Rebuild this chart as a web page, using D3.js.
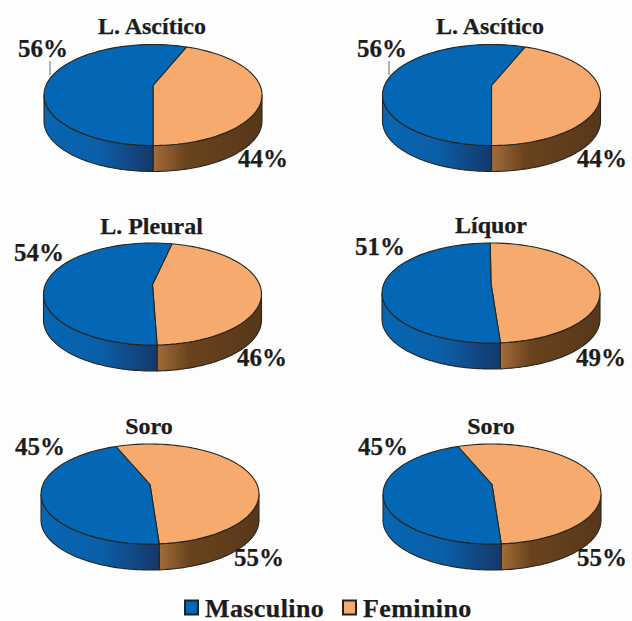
<!DOCTYPE html>
<html>
<head>
<meta charset="utf-8">
<script src="https://cdn.jsdelivr.net/npm/d3@7/dist/d3.min.js"></script>
<style>
  html, body { margin: 0; padding: 0; background: #fdfdfd; }
  text { font-family: "Liberation Serif", serif; font-weight: bold; fill: #1c1c1c; stroke: #1c1c1c; stroke-width: 0.25px; }
</style>
</head>
<body>
<svg id="chart" width="632" height="621"></svg>
<script>
// Sex distribution per sample type
const titles = ["L. Ascítico", "L. Ascítico", "L. Pleural", "Líquor", "Soro", "Soro"];
const masculino = [56, 56, 54, 51, 45, 45];
const feminino = [44, 44, 46, 49, 55, 55];
const seriesNames = ["Masculino", "Feminino"];

// Where the first slice starts on each pie, degrees clockwise from the back
const startDegrees = [21.6, 21.6, 12.4, -0.5, -22, -22];

// Panel placement
const panels = [
  { cx: 153, cy: 95, rx: 109, ry: 50.5, tx: 152, ty: 34, m: [18, 57], f: [238, 167], leader: true },
  { cx: 491.5, cy: 95, rx: 109, ry: 50.5, tx: 490, ty: 34, m: [357, 57], f: [577, 167], leader: true },
  { cx: 152.5, cy: 294, rx: 109, ry: 51, tx: 151.5, ty: 234, m: [14, 261], f: [237, 366] },
  { cx: 491, cy: 293, rx: 109, ry: 50, tx: 491, ty: 233, m: [355, 255], f: [576, 366] },
  { cx: 150, cy: 494, rx: 109, ry: 50, tx: 149, ty: 434, m: [15, 455], f: [234, 566] },
  { cx: 492, cy: 494, rx: 109, ry: 50, tx: 491, ty: 434, m: [358, 455], f: [577, 566] }
];
const depth = 26;
const apexLift = 9.5;            // the disc centre sits above the ellipse centre in perspective
const colors = { Masculino: "#0467b5", Feminino: "#f6aa6e" };
const stroke = "#26261f";

const svg = d3.select("#chart");
const defs = svg.append("defs");

const addGradient = (id, x0, x1, stops) => {
  const g = defs.append("linearGradient").attr("id", id)
    .attr("gradientUnits", "userSpaceOnUse")
    .attr("x1", x0).attr("x2", x1).attr("y1", 0).attr("y2", 0);
  stops.forEach(([o, c]) => g.append("stop").attr("offset", o).attr("stop-color", c));
};

const rad = d3.scaleLinear().domain([0, 360]).range([0, 2 * Math.PI]);

titles.forEach((title, i) => {
  const p = panels[i];
  const k = -2 * apexLift / (2 * p.ry);
  const A = p.ry;
  const C = p.rx * Math.sqrt(1 - k * k);

  // Perspective projection of a point on the disc
  const project = (angle, r = 1) => {
    const u = r * Math.sin(angle), v = -r * Math.cos(angle);
    const w = 1 + k * v;
    return [p.cx + C * u / w, p.cy + (A * v - apexLift) / w];
  };
  const sampled = (a0, a1) => d3.range(0, 61).map(n => a0 + (a1 - a0) * n / 60);
  const line = d3.line();

  const start = rad(startDegrees[i]);
  const pie = d3.pie().sort(null).startAngle(start).endAngle(start + 2 * Math.PI);
  const [femArc, mascArc] = pie([feminino[i], masculino[i]]);

  const g = svg.append("g");

  // Side wall: only the front of the rim shows
  const frontA = Math.PI - Math.acos(apexLift / p.ry);
  const frontB = 2 * Math.PI - frontA;
  const wall = (a0, a1, fill) => {
    const lo = Math.max(a0, frontA), hi = Math.min(a1, frontB);
    if (hi <= lo) return;
    const top = sampled(lo, hi).map(a => project(a));
    const bottom = top.map(([x, y]) => [x, y + depth]).reverse();
    g.append("path").attr("d", line(top.concat(bottom)) + "Z")
      .attr("fill", fill).attr("stroke", stroke).attr("stroke-width", 1.1);
  };

  const joint = project(femArc.endAngle)[0];
  addGradient(`wall-f-${i}`, joint, p.cx + p.rx, [[0, "#a36c3a"], [0.3, "#6a431d"], [1, "#57371a"]]);
  addGradient(`wall-m-${i}`, p.cx - p.rx, joint, [[0, "#0766b2"], [0.5, "#0b5fa8"], [1, "#15386a"]]);
  wall(femArc.startAngle, femArc.endAngle, `url(#wall-f-${i})`);
  wall(mascArc.startAngle, mascArc.endAngle, `url(#wall-m-${i})`);

  // Top face
  const apex = [p.cx, p.cy - apexLift];
  [[femArc, colors.Feminino], [mascArc, colors.Masculino]].forEach(([a, fill]) => {
    const rim = sampled(a.startAngle, a.endAngle).map(t => project(t));
    g.append("path").attr("d", line([apex].concat(rim)) + "Z")
      .attr("fill", fill).attr("stroke", stroke).attr("stroke-width", 1.1).attr("stroke-linejoin", "round");
  });

  // Leader tick from the label to the rim
  if (p.leader) {
    g.append("line")
      .attr("x1", p.m[0] + 32).attr("x2", p.m[0] + 32)
      .attr("y1", p.m[1] + 4).attr("y2", p.m[1] + 18)
      .attr("stroke", "#444").attr("stroke-width", 0.8);
  }

  g.append("text").attr("x", p.tx).attr("y", p.ty).attr("text-anchor", "middle")
    .attr("font-size", 24).text(title);
  g.append("text").attr("x", p.m[0]).attr("y", p.m[1]).attr("font-size", 25).text(`${masculino[i]}%`);
  g.append("text").attr("x", p.f[0]).attr("y", p.f[1]).attr("font-size", 25).text(`${feminino[i]}%`);
});

// Legend
const legendX = [185, 343];
seriesNames.forEach((name, i) => {
  const g = svg.append("g").attr("transform", `translate(${legendX[i]},600.5)`);
  g.append("rect").attr("width", 13).attr("height", 14)
    .attr("fill", colors[name]).attr("stroke", "#222").attr("stroke-width", 2);
  g.append("text").attr("x", 20).attr("y", 16).attr("font-size", 26).attr("letter-spacing", 0.4).text(name);
});
</script>
</body>
</html>
